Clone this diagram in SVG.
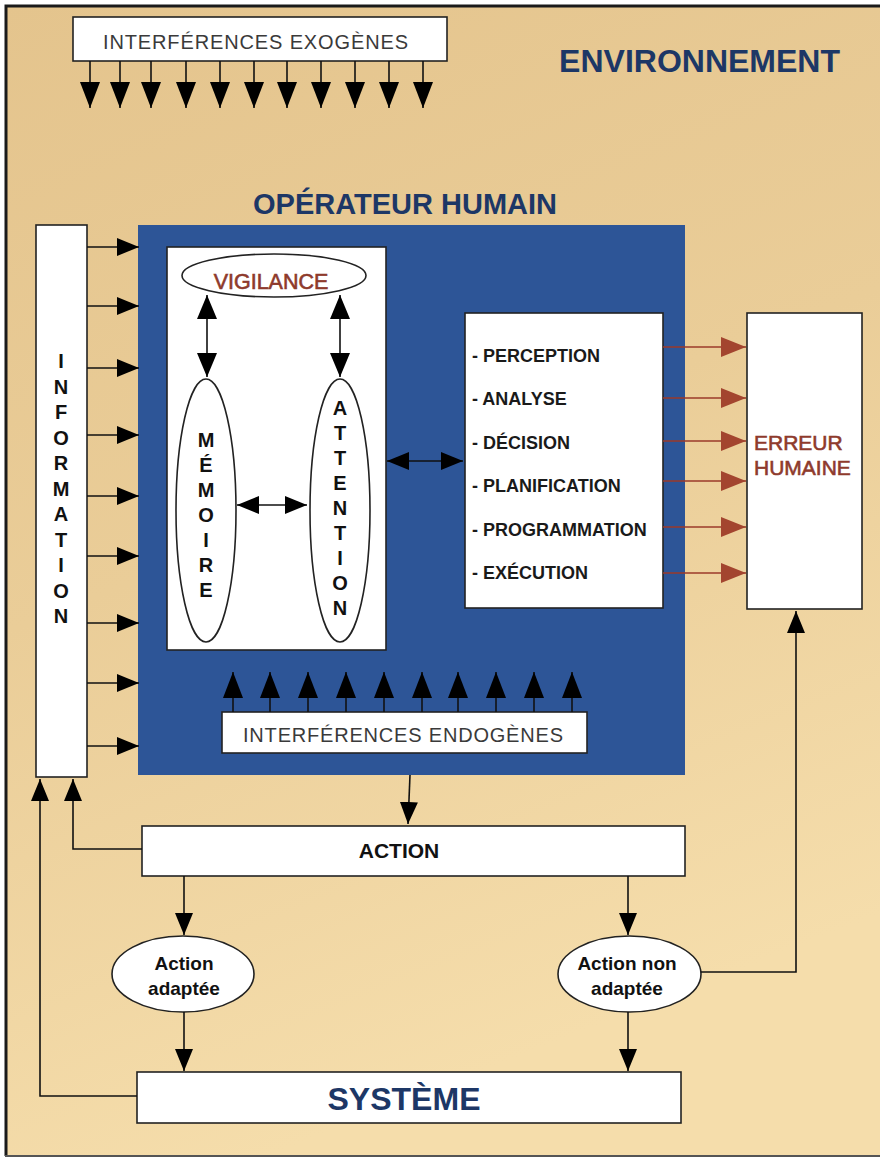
<svg xmlns="http://www.w3.org/2000/svg" width="880" height="1158" viewBox="0 0 880 1158">
<defs>
<linearGradient id="bg" x1="0" y1="0" x2="0.3" y2="1">
<stop offset="0" stop-color="#e4c48d"/>
<stop offset="0.5" stop-color="#eacd98"/>
<stop offset="1" stop-color="#f5ddab"/>
</linearGradient>
<marker id="ah" markerUnits="userSpaceOnUse" viewBox="0 0 24 20" refX="24" refY="10" markerWidth="24" markerHeight="20" orient="auto-start-reverse">
<path d="M0,0 L24,10 L0,20 z" fill="#000"/>
</marker>
<marker id="ahs" markerUnits="userSpaceOnUse" viewBox="0 0 22 18" refX="22" refY="9" markerWidth="22" markerHeight="18" orient="auto-start-reverse">
<path d="M0,0 L22,9 L0,18 z" fill="#000"/>
</marker>
<marker id="ahr" markerUnits="userSpaceOnUse" viewBox="0 0 25 20" refX="25" refY="10" markerWidth="25" markerHeight="20" orient="auto">
<path d="M0,0 L25,10 L0,20 z" fill="#a3452f"/>
</marker>
<marker id="ahd" markerUnits="userSpaceOnUse" viewBox="0 0 26 20" refX="26" refY="10" markerWidth="26" markerHeight="20" orient="auto">
<path d="M0,0 L26,10 L0,20 z" fill="#000"/>
</marker>
</defs>
<style>
.box{fill:#fff;stroke:#222;stroke-width:1.6}
.ln{stroke:#111;stroke-width:1.6;fill:none}
.rl{stroke:#9b3a2a;stroke-width:1.6;fill:none}
.reg{font-family:"Liberation Sans",Arial,sans-serif;fill:#3a3a3a;font-size:20px}
.bld{font-family:"Liberation Sans",Arial,sans-serif;font-weight:bold;fill:#111}
.navy{font-family:"Liberation Sans",Arial,sans-serif;font-weight:bold;fill:#1d3766}
.red{font-family:"Liberation Sans",Arial,sans-serif;fill:#8e3a2c;stroke:#8e3a2c;stroke-width:0.6}
.vert{font-family:"Liberation Sans",Arial,sans-serif;font-weight:bold;fill:#111;font-size:20px;text-anchor:middle}
.item{font-family:"Liberation Sans",Arial,sans-serif;font-weight:bold;fill:#1a1a1a;font-size:18px}
</style>
<rect x="0" y="0" width="880" height="1158" fill="#fff"/>
<rect x="5" y="6" width="875" height="1150" fill="url(#bg)"/>
<path d="M6,1156 V6 H880" stroke="#1a1a1a" stroke-width="3" fill="none"/>
<line x1="5" y1="1156" x2="880" y2="1156" stroke="#555" stroke-width="2"/>

<g id="environnement">
<text class="navy" x="840" y="72" font-size="32" text-anchor="end">ENVIRONNEMENT</text>
</g>

<g id="interferences-exogenes">
<rect class="box" x="73" y="17" width="374" height="44"/>
<text class="reg" x="103" y="49" textLength="305" lengthAdjust="spacing">INTERFÉRENCES EXOGÈNES</text>
</g>

<g id="operateur-humain">
<text class="navy" x="405" y="214" font-size="29" text-anchor="middle">OPÉRATEUR HUMAIN</text>
<rect x="138" y="225" width="547" height="550" fill="#2d5597"/>
</g>

<g id="information">
<rect class="box" x="36" y="225" width="51" height="552"/>
<text class="vert" x="61" y="368">I</text>
<text class="vert" x="61" y="393.5">N</text>
<text class="vert" x="61" y="419">F</text>
<text class="vert" x="61" y="444.5">O</text>
<text class="vert" x="61" y="470">R</text>
<text class="vert" x="61" y="495.5">M</text>
<text class="vert" x="61" y="521">A</text>
<text class="vert" x="61" y="546.5">T</text>
<text class="vert" x="61" y="572">I</text>
<text class="vert" x="61" y="597.5">O</text>
<text class="vert" x="61" y="623">N</text>
</g>

<g id="cognition">
<rect class="box" x="167" y="247" width="219" height="403" stroke-width="1.2"/>
</g>

<g id="vigilance">
<ellipse cx="274" cy="275.5" rx="92" ry="21.5" fill="#fff" stroke="#222" stroke-width="1.6"/>
<text class="red" x="271" y="288.5" font-size="21.5" text-anchor="middle">VIGILANCE</text>
</g>

<g id="memoire">
<ellipse cx="206" cy="510.5" rx="30" ry="131.5" fill="#fff" stroke="#222" stroke-width="1.6"/>
<text class="vert" x="206" y="447">M</text>
<text class="vert" x="206" y="472">É</text>
<text class="vert" x="206" y="497">M</text>
<text class="vert" x="206" y="522">O</text>
<text class="vert" x="206" y="547">I</text>
<text class="vert" x="206" y="572">R</text>
<text class="vert" x="206" y="597">E</text>
</g>

<g id="attention">
<ellipse cx="340" cy="510.5" rx="30" ry="131.5" fill="#fff" stroke="#222" stroke-width="1.6"/>
<text class="vert" x="340" y="415">A</text>
<text class="vert" x="340" y="440">T</text>
<text class="vert" x="340" y="465">T</text>
<text class="vert" x="340" y="490">E</text>
<text class="vert" x="340" y="515">N</text>
<text class="vert" x="340" y="540">T</text>
<text class="vert" x="340" y="565">I</text>
<text class="vert" x="340" y="590">O</text>
<text class="vert" x="340" y="615">N</text>
</g>

<g id="processus">
<rect class="box" x="465" y="313" width="198" height="295"/>
<text class="item" x="472" y="362">- PERCEPTION</text>
<text class="item" x="472" y="405">- ANALYSE</text>
<text class="item" x="472" y="449">- DÉCISION</text>
<text class="item" x="472" y="492">- PLANIFICATION</text>
<text class="item" x="472" y="536">- PROGRAMMATION</text>
<text class="item" x="472" y="579">- EXÉCUTION</text>
</g>

<g id="erreur-humaine">
<rect class="box" x="747" y="313" width="115" height="296"/>
<text class="red" x="754" y="450" font-size="21">ERREUR</text>
<text class="red" x="754" y="475" font-size="21">HUMAINE</text>
</g>

<g id="interferences-endogenes">
<rect class="box" x="222" y="712" width="365" height="41"/>
<text class="reg" x="243" y="742" textLength="320" lengthAdjust="spacing">INTERFÉRENCES ENDOGÈNES</text>
</g>

<g id="action">
<rect class="box" x="142" y="826" width="543" height="50"/>
<text class="bld" x="399" y="858" font-size="21" text-anchor="middle">ACTION</text>
</g>

<g id="action-adaptee">
<ellipse cx="183" cy="974" rx="71" ry="38" fill="#fff" stroke="#222" stroke-width="1.6"/>
<text class="bld" x="184" y="970" font-size="19" text-anchor="middle">Action</text>
<text class="bld" x="184" y="995" font-size="19" text-anchor="middle">adaptée</text>
</g>

<g id="action-non-adaptee">
<ellipse cx="629.5" cy="974" rx="71.5" ry="38" fill="#fff" stroke="#222" stroke-width="1.6"/>
<text class="bld" x="627" y="970" font-size="19" text-anchor="middle">Action non</text>
<text class="bld" x="627" y="995" font-size="19" text-anchor="middle">adaptée</text>
</g>

<g id="systeme">
<rect class="box" x="137" y="1072" width="544" height="51"/>
<text class="navy" x="404" y="1110" font-size="31" text-anchor="middle" textLength="153" lengthAdjust="spacingAndGlyphs">SYSTÈME</text>
</g>

<g id="connectors">
<g class="ln" marker-end="url(#ahd)">
<line x1="90" y1="61" x2="90" y2="108"/>
<line x1="120" y1="61" x2="120" y2="108"/>
<line x1="151" y1="61" x2="151" y2="108"/>
<line x1="186" y1="61" x2="186" y2="108"/>
<line x1="220" y1="61" x2="220" y2="108"/>
<line x1="254" y1="61" x2="254" y2="108"/>
<line x1="287" y1="61" x2="287" y2="108"/>
<line x1="321" y1="61" x2="321" y2="108"/>
<line x1="355" y1="61" x2="355" y2="108"/>
<line x1="389" y1="61" x2="389" y2="108"/>
<line x1="423" y1="61" x2="423" y2="108"/>
</g>
<g class="ln" marker-end="url(#ahs)">
<line x1="87" y1="247" x2="139" y2="247"/>
<line x1="87" y1="306" x2="139" y2="306"/>
<line x1="87" y1="368" x2="139" y2="368"/>
<line x1="87" y1="435" x2="139" y2="435"/>
<line x1="87" y1="496" x2="139" y2="496"/>
<line x1="87" y1="556" x2="139" y2="556"/>
<line x1="87" y1="623" x2="139" y2="623"/>
<line x1="87" y1="683" x2="139" y2="683"/>
<line x1="87" y1="746" x2="139" y2="746"/>
</g>
<g class="ln" marker-end="url(#ahd)">
<line x1="233" y1="712" x2="233" y2="672"/>
<line x1="270" y1="712" x2="270" y2="672"/>
<line x1="308" y1="712" x2="308" y2="672"/>
<line x1="346" y1="712" x2="346" y2="672"/>
<line x1="384" y1="712" x2="384" y2="672"/>
<line x1="422" y1="712" x2="422" y2="672"/>
<line x1="458" y1="712" x2="458" y2="672"/>
<line x1="496" y1="712" x2="496" y2="672"/>
<line x1="534" y1="712" x2="534" y2="672"/>
<line x1="572" y1="712" x2="572" y2="672"/>
</g>
<line class="ln" x1="207" y1="295" x2="207" y2="377" marker-start="url(#ah)" marker-end="url(#ah)"/>
<line class="ln" x1="340" y1="295" x2="340" y2="377" marker-start="url(#ah)" marker-end="url(#ah)"/>
<line class="ln" x1="237" y1="505" x2="307" y2="505" marker-start="url(#ahs)" marker-end="url(#ahs)"/>
<line class="ln" x1="387" y1="461" x2="463" y2="461" marker-start="url(#ahs)" marker-end="url(#ahs)"/>
<g class="rl" marker-end="url(#ahr)">
<line x1="663" y1="347" x2="746" y2="347"/>
<line x1="663" y1="398" x2="746" y2="398"/>
<line x1="663" y1="441" x2="746" y2="441"/>
<line x1="663" y1="481" x2="746" y2="481"/>
<line x1="663" y1="527" x2="746" y2="527"/>
<line x1="663" y1="573" x2="746" y2="573"/>
</g>
<line class="ln" x1="410" y1="775" x2="408" y2="824" marker-end="url(#ahs)"/>
<line class="ln" x1="184" y1="876" x2="184" y2="935" marker-end="url(#ahs)"/>
<line class="ln" x1="628" y1="876" x2="628" y2="935" marker-end="url(#ahs)"/>
<line class="ln" x1="184" y1="1012" x2="184" y2="1071" marker-end="url(#ahs)"/>
<line class="ln" x1="628" y1="1012" x2="628" y2="1071" marker-end="url(#ahs)"/>
<polyline class="ln" points="701,972 796,972 796,611" marker-end="url(#ahs)"/>
<polyline class="ln" points="137,1096 40,1096 40,779" marker-end="url(#ahs)"/>
<polyline class="ln" points="142,849 73,849 73,779" marker-end="url(#ahs)"/>
</g>
</svg>
